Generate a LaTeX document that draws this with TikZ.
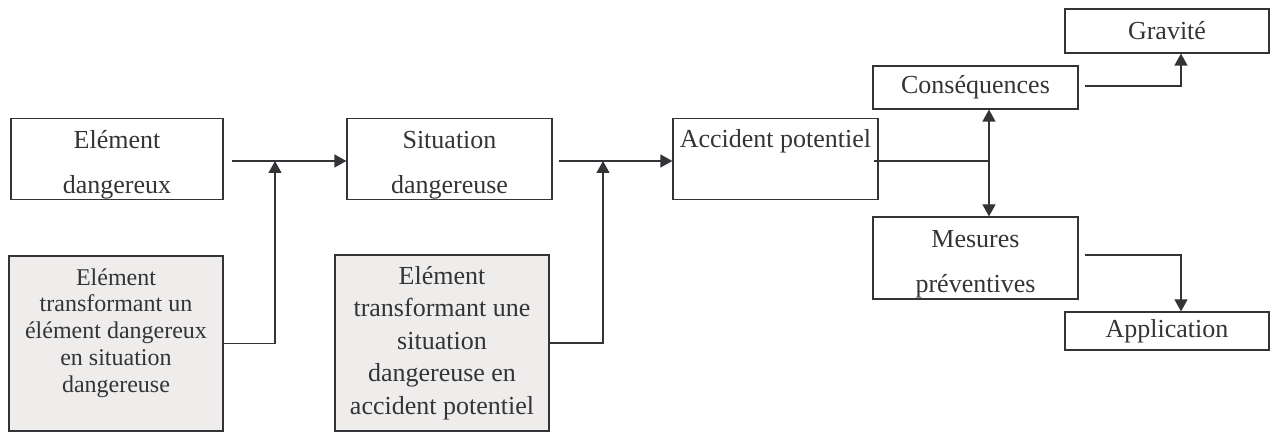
\documentclass[tikz,border=0pt]{standalone}
\usepackage{fontspec}
\setmainfont{Liberation Serif}
\usetikzlibrary{arrows.meta}
\definecolor{ink}{RGB}{52,52,56}
\definecolor{shade}{RGB}{238,237,235}
\begin{document}
\begin{tikzpicture}[x=0.5pt,y=-0.5pt,
  box/.style={draw=ink,text=ink,line width=0.6pt,inner sep=0pt,align=center,font=\fontsize{13}{22.5}\selectfont},
  twoline/.style={box,minimum width=102.5pt,minimum height=40.5pt,text height=37.5pt},
  greybox/.style={box,fill=shade},
  link/.style={draw=ink,line width=0.6pt},
  >={Triangle[length=6pt,width=6.5pt]}]
\useasboundingbox (0,0) rectangle (1271,432);
\node[twoline,minimum width=106pt] (e1) at (117,159) {Elément\\dangereux};
\node[greybox,minimum width=107pt,minimum height=87.5pt,font=\fontsize{12}{13.4}\selectfont,text depth=13.1pt] (g1) at (116,343.5) {Elément\\transformant un\\élément dangereux\\en situation\\dangereuse};
\node[twoline] (s) at (449.5,159) {Situation\\dangereuse};
\node[greybox,minimum width=107pt,minimum height=88pt,font=\fontsize{13}{16.25}\selectfont] (g2) at (442,343) {Elément\\transformant une\\situation\\dangereuse en\\accident potentiel};
\node[box,minimum width=102.5pt,minimum height=40.5pt,text depth=20.4pt] (a) at (775.5,159) {Accident potentiel};
\node[box,minimum width=102.5pt,minimum height=21.5pt] (c) at (975.5,87.5) {Conséquences};
\node[box,minimum width=102pt,minimum height=22pt] (gr) at (1167,31) {Gravité};
\node[twoline,minimum height=41pt] (m) at (975.5,258) {Mesures\\préventives};
\node[box,minimum width=102pt,minimum height=19pt] (ap) at (1167,331) {Application};
\coordinate (j1) at (275,161);
\coordinate (j2) at (603,161);
\coordinate (j3) at (989,161);
\draw[link,->] ([xshift=4pt,yshift=-1pt]e1.east) -- ([yshift=-1pt]s.west);
\draw[link,->] (g1.east) -| (j1);
\draw[link,->] ([xshift=3pt,yshift=-1pt]s.east) -- ([yshift=-1pt]a.west);
\draw[link,->] (g2.east) -| (j2);
\draw[link] ([xshift=-2.5pt,yshift=-1pt]a.east) -- (j3);
\draw[link,->] (j3) -- (j3 |- c.south);
\draw[link,->] (j3) -- (j3 |- m.north);
\draw[link,->] ([xshift=3pt,yshift=0.75pt]c.east) -| ([xshift=7pt]gr.south);
\draw[link,->] ([xshift=3pt,yshift=1.5pt]m.east) -| ([xshift=7pt]ap.north);
\end{tikzpicture}
\end{document}
